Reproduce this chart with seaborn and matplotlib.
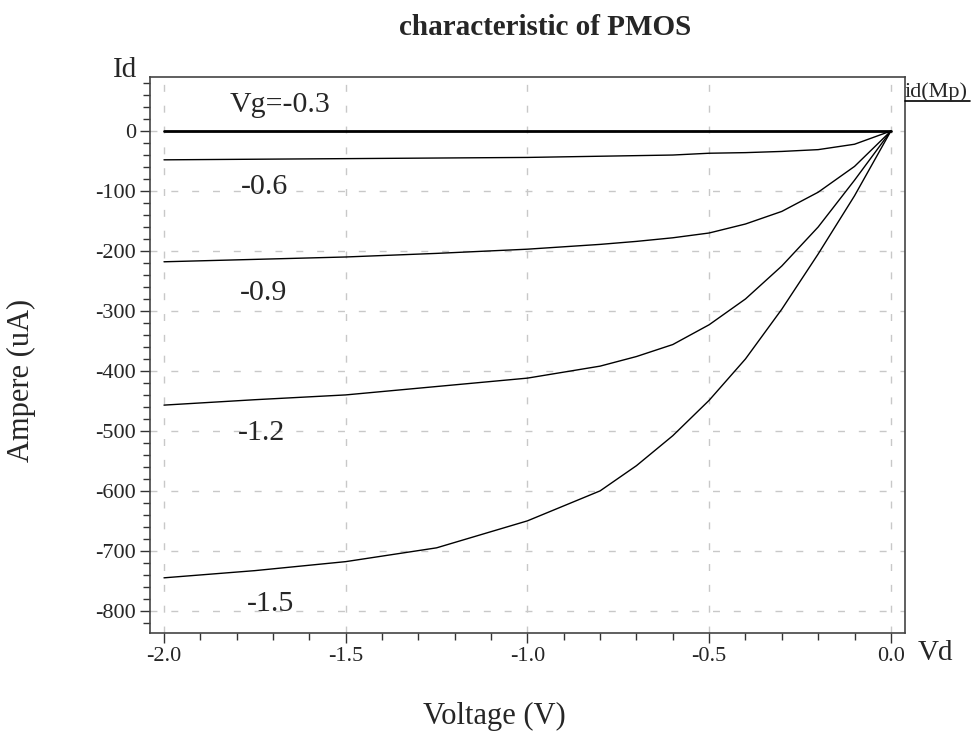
import numpy as np
import pandas as pd
import matplotlib
matplotlib.use("Agg")
import matplotlib.pyplot as plt
from matplotlib.lines import Line2D
from matplotlib.ticker import MultipleLocator, FormatStrFormatter
import seaborn as sns

vd = [-2.0, -1.75, -1.5, -1.25, -1.0, -0.8, -0.7, -0.6, -0.5, -0.4, -0.3, -0.2, -0.1, 0.0]
id_vg03 = [0, 0, 0, 0, 0, 0, 0, 0, 0, 0, 0, 0, 0, 0]
id_vg06 = [-48, -47, -46, -45, -44, -42, -41, -40, -37, -36, -34, -31, -22, 0]
id_vg09 = [-218, -214, -210, -204, -197, -189, -184, -178, -170, -155, -134, -102, -59, 0]
id_vg12 = [-457, -448, -440, -426, -412, -392, -376, -356, -323, -280, -225, -160, -82, 0]
id_vg15 = [-745, -733, -718, -695, -650, -600, -558, -508, -449, -380, -297, -205, -108, 0]
vg_labels = ["Vg=-0.3", "-0.6", "-0.9", "-1.2", "-1.5"]
x_ticks = [-2.0, -1.5, -1.0, -0.5, 0.0]
y_ticks = [0, -100, -200, -300, -400, -500, -600, -700, -800]

series = [id_vg03, id_vg06, id_vg09, id_vg12, id_vg15]
df = pd.DataFrame({
    "Vd": np.tile(vd, len(series)),
    "Id": np.concatenate(series),
    "Vg": np.repeat(vg_labels, len(vd)),
})

sns.set_style("white")
plt.rcParams["font.family"] = ["Liberation Serif", "DejaVu Serif"]
plt.rcParams["axes.unicode_minus"] = False

fig = plt.figure(figsize=(9.74, 7.34), dpi=100)
ax = fig.add_axes([0.154, 0.1376, 0.775, 0.7574])

sns.lineplot(data=df, x="Vd", y="Id", hue="Vg", palette=["black"] * 5,
             legend=False, ax=ax, linewidth=1.0, estimator=None, sort=False)
ax.lines[0].set_linewidth(2.0)

ax.set_xlim(-2.0385, 0.0385)
ax.set_ylim(-837, 90)
ax.set_xticks(x_ticks)
ax.set_yticks(y_ticks)
ax.xaxis.set_major_formatter(FormatStrFormatter("%.1f"))
ax.xaxis.set_minor_locator(MultipleLocator(0.1))
ax.yaxis.set_minor_locator(MultipleLocator(20))
ax.tick_params(axis="both", which="major", direction="out", length=7, width=1,
               color="#333333", labelsize=16, bottom=True, left=True, pad=3)
ax.tick_params(axis="both", which="minor", direction="out", length=5, width=1,
               color="#333333", bottom=True, left=True)
ax.grid(True, which="major", color="#c8c8c8", linestyle=(0, (5, 10)), linewidth=1)
for s in ax.spines.values():
    s.set_color("#444444")
    s.set_linewidth(1.2)

ax.set_xlabel("")
ax.set_ylabel("")

# curve labels (baseline anchored)
label_pos = [(-1.681, 32), (-1.7235, -105), (-1.726, -282), (-1.732, -515), (-1.708, -800)]
for (lx, ly), txt in zip(label_pos, vg_labels):
    ax.text(lx, ly, txt, fontsize=21.5, ha="center", va="baseline")

fig.text(0.5595, 0.9523, "characteristic of PMOS", fontsize=21, fontweight="bold",
         ha="center", va="baseline")
fig.text(0.1289, 0.8951, "Id", fontsize=21, ha="center", va="baseline")
fig.text(0.9605, 0.1008, "Vd", fontsize=21, ha="center", va="baseline")
fig.text(0.5077, 0.0136, "Voltage (V)", fontsize=22, ha="center", va="baseline")
fig.text(0.022, 0.482, "Ampere (uA)", fontsize=22, ha="center", va="center", rotation=90)
fig.text(0.9292, 0.8678, "id(Mp)", fontsize=16, ha="left", va="baseline")
fig.add_artist(Line2D([0.929, 0.996], [0.8624, 0.8624], color="black", linewidth=1.2,
                      transform=fig.transFigure))

fig.savefig("out.png", dpi=100)
